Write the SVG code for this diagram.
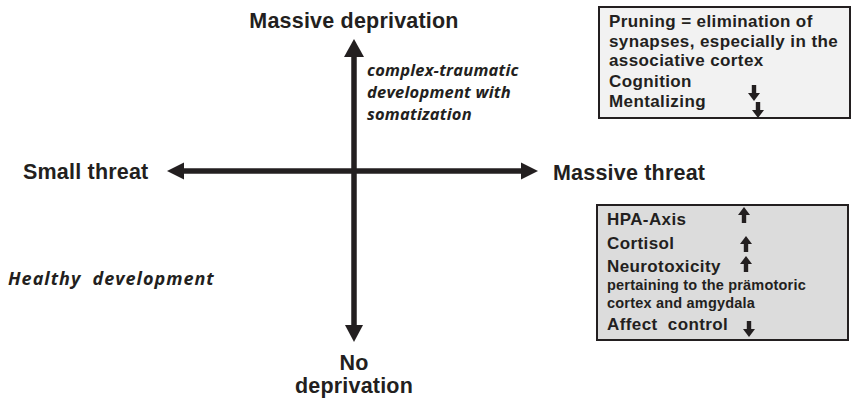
<svg xmlns="http://www.w3.org/2000/svg" width="855" height="400" viewBox="0 0 855 400">
<defs>
<style>
.lbl{font-family:"Liberation Sans",Arial,sans-serif;font-weight:bold;font-size:21.5px;letter-spacing:0.2px;fill:#231f20}
.it{font-family:"Open Sans","DejaVu Sans",sans-serif;font-style:italic;font-weight:700;fill:#231f20}
.bx{font-family:"Liberation Sans",Arial,sans-serif;font-weight:bold;font-size:17px;letter-spacing:0.4px;fill:#231f20}
.sm{font-size:14.5px;letter-spacing:0.2px}
.axis{stroke:#231f20;stroke-width:5.5;fill:none}
.box{stroke:#231f20;stroke-width:2}
</style>
<path id="up" d="M0,0 L6,8 L2.2,8 L2.2,16 L-2.2,16 L-2.2,8 L-6,8 Z" fill="#231f20"/>
<path id="down" d="M0,0 L6,-8 L2.2,-8 L2.2,-16 L-2.2,-16 L-2.2,-8 L-6,-8 Z" fill="#231f20"/>
</defs>
<rect width="855" height="400" fill="#ffffff"/>
<g id="connectors">
<line class="axis" x1="354" y1="54" x2="354" y2="327"/>
<line class="axis" x1="182" y1="171" x2="524" y2="171"/>
<path d="M354,39 L364,57 L344,57 Z" fill="#231f20"/>
<path d="M354,342 L363,325 L345,325 Z" fill="#231f20"/>
<path d="M167,171 L184,162.5 L184,179.5 Z" fill="#231f20"/>
<path d="M538,171 L521,162.5 L521,179.5 Z" fill="#231f20"/>
</g>
<g id="n-massive-deprivation"><text class="lbl" x="354" y="28" text-anchor="middle">Massive deprivation</text></g>
<g id="n-small-threat"><text class="lbl" x="23" y="179">Small threat</text></g>
<g id="n-massive-threat"><text class="lbl" x="553" y="180">Massive threat</text></g>
<g id="n-no-deprivation"><text class="lbl" x="354" y="370" text-anchor="middle">No</text><text class="lbl" x="354" y="393" text-anchor="middle">deprivation</text></g>
<g id="n-complex"><text class="it" font-size="16.5" letter-spacing="0.2" x="367" y="76">complex-traumatic</text><text class="it" font-size="16.5" letter-spacing="0.2" x="367" y="98">development with</text><text class="it" font-size="16.5" letter-spacing="0.2" x="367" y="120">somatization</text></g>
<g id="n-healthy"><text class="it" font-size="18" letter-spacing="1" x="8" y="285" xml:space="preserve">Healthy  development</text></g>
<g id="n-pruning">
<rect class="box" x="599" y="7" width="251" height="111" fill="#f2f2f2"/>
<text class="bx" x="609" y="27">Pruning = elimination of</text>
<text class="bx" x="609" y="47">synapses, especially in the</text>
<text class="bx" x="609" y="66">associative cortex</text>
<text class="bx" x="609" y="87">Cognition</text>
<text class="bx" x="609" y="107">Mentalizing</text>
<use href="#down" x="754" y="101"/>
<use href="#down" x="758" y="118"/>
</g>
<g id="n-hpa">
<rect class="box" x="597" y="205" width="251" height="135" fill="#dcdcdc"/>
<text class="bx" x="607" y="225">HPA-Axis</text>
<text class="bx" x="607" y="249">Cortisol</text>
<text class="bx" x="607" y="272">Neurotoxicity</text>
<text class="bx sm" x="607" y="290">pertaining to the prämotoric</text>
<text class="bx sm" x="607" y="308">cortex and amgydala</text>
<text class="bx" x="607" y="330" xml:space="preserve">Affect  control</text>
<use href="#up" x="744" y="207"/>
<use href="#up" x="746" y="236"/>
<use href="#up" x="746" y="256"/>
<use href="#down" x="749" y="337"/>
</g>
</svg>
